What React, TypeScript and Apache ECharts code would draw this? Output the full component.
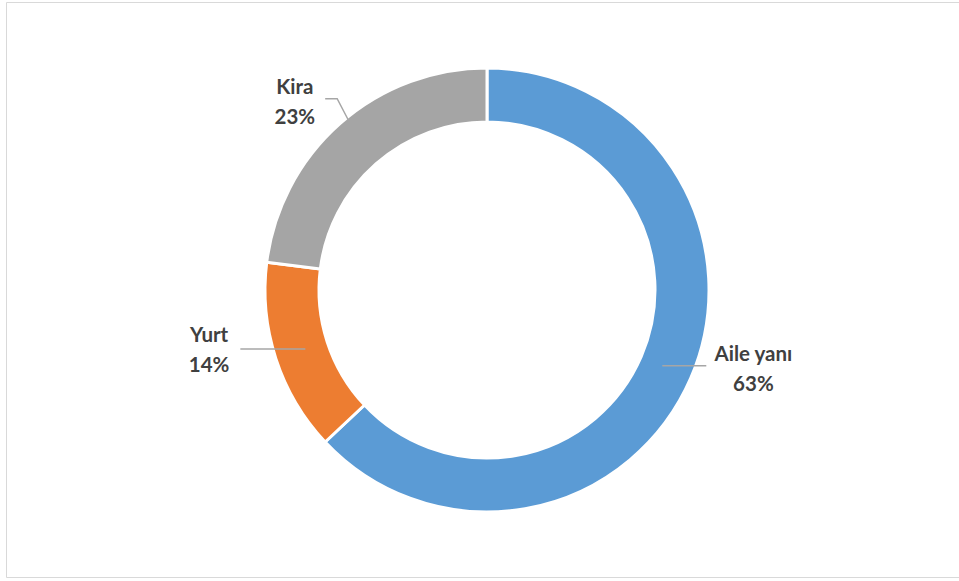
import React, { useEffect, useRef } from "react";
import * as echarts from "echarts";

const categories = ["Aile yanı", "Yurt", "Kira"];
const values = [63, 14, 23];
const colors = ["#5B9BD5", "#ED7D31", "#A5A5A5"];

const CX = 487;
const CY = 290;
const R_OUT = 222;
const R_IN = 168;

export default function App() {
  const ref = useRef<HTMLDivElement>(null);
  useEffect(() => {
    if (!ref.current) return;
    const chart = echarts.init(ref.current, null, { renderer: "svg" });
    const total = values.reduce((a, b) => a + b, 0);
    const midAngles: number[] = [];
    let acc = 0;
    values.forEach((v) => {
      midAngles.push(((acc + v / 2) / total) * Math.PI * 2);
      acc += v;
    });
    const polar = (r: number, a: number) => [CX + r * Math.sin(a), CY - r * Math.cos(a)];

    const base = {
      type: "pie",
      center: [CX, CY],
      radius: [R_IN, R_OUT],
      startAngle: 90,
      clockwise: true,
      avoidLabelOverlap: false,
    };

    chart.setOption({
      animation: false,
      backgroundColor: "#ffffff",
      graphic: [
        {
          type: "rect",
          shape: { x: 6.5, y: 2.5, width: 970, height: 575 },
          style: { fill: "none", stroke: "#D9D9D9", lineWidth: 1 },
          silent: true,
        },
      ],
      series: [
        {
          ...base,
          z: 2,
          itemStyle: { borderColor: "#ffffff", borderWidth: 3 },
          label: { show: false },
          labelLine: { show: false },
          data: categories.map((c, i) => ({
            name: c,
            value: values[i],
            itemStyle: { color: colors[i] },
          })),
        },
        {
          ...base,
          z: 6,
          silent: true,
          itemStyle: { color: "rgba(0,0,0,0)", borderWidth: 0 },
          emphasis: { disabled: true },
          label: {
            show: true,
            position: "outside",
            formatter: "{b}\n{d}%",
            fontFamily: "Lato",
            fontWeight: "bold",
            fontSize: 20.5,
            lineHeight: 30,
            color: "#404040",
            align: "center",
          },
          labelLine: {
            show: true,
            length: 10,
            length2: 20,
            smooth: false,
            lineStyle: { color: "#A6A6A6", width: 1.5 },
          },
          labelLayout: (params: any) => {
            const i = params.dataIndex;
            const a = midAngles[i];
            const w = params.labelRect ? params.labelRect.width : 70;
            const right = Math.sin(a) > 0;
            if (i === 2) {
              const q = polar(219, a);
              const p0 = [q[0] + 6, q[1] - 6];
              const p1 = [p0[0] - 11, p0[1] - 21];
              const p2 = [p1[0] - 12, p1[1]];
              return {
                x: p2[0] - 10 - w / 2,
                y: p2[1] + 2,
                align: "center",
                verticalAlign: "middle",
                labelLinePoints: [p0, p1, p2],
              };
            }
            const p0 = polar((R_IN + R_OUT) / 2 - 4, a);
            const len = right ? 44 : 65;
            const p2 = [p0[0] + (right ? len : -len), p0[1]];
            return {
              x: p2[0] + (right ? 8 + w / 2 : -11 - w / 2),
              y: p2[1] + (right ? 2 : 0),
              align: "center",
              verticalAlign: "middle",
              labelLinePoints: [p0, p2, p2],
            };
          },
          data: categories.map((c, i) => ({
            name: c,
            value: values[i],
          })),
        },
      ],
    });
    return () => chart.dispose();
  }, []);
  return (
    <div
      ref={ref}
      style={{ position: "fixed", left: 0, top: 0, width: 959, height: 581 }}
    />
  );
}
